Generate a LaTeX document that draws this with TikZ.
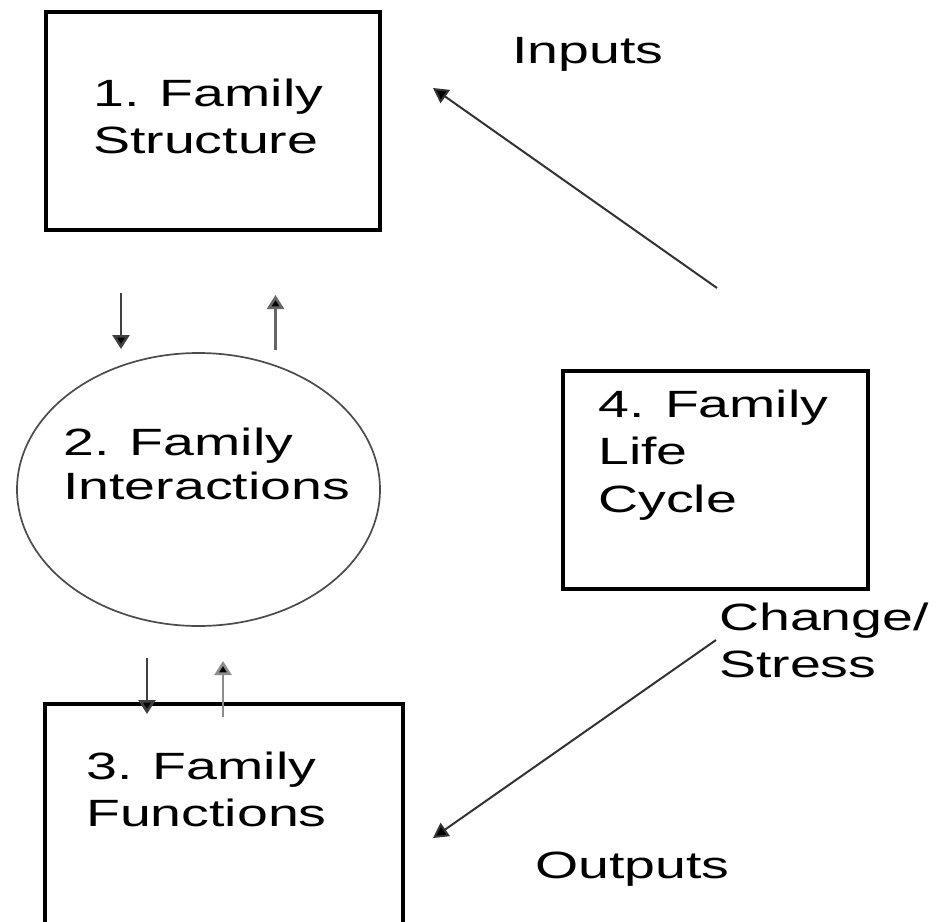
\documentclass[tikz,border=0pt]{standalone}
\usepackage{fontspec}
\setmainfont[FakeStretch=1.46]{Liberation Sans}
\usetikzlibrary{arrows.meta,shapes.geometric}
\begin{document}
\begin{tikzpicture}[x=1pt,y=-1pt,
  boxline/.style={draw=black, line width=4pt, inner sep=0pt, rectangle},
  ovalline/.style={draw=black!70, line width=1.7pt, ellipse, inner sep=0pt},
  lbl/.style={anchor=base west, inner sep=0pt, font=\fontsize{38}{47.5}\selectfont},
  conn/.style={draw=black!80, line width=2pt, -{Triangle[width=16pt,length=15pt,fill=black]}},
  vconn/.style={line width=2.6pt, -{Triangle[width=17pt,length=14pt,fill=black]}}]
\useasboundingbox (0,0) rectangle (937,921);
\clip (0,0) rectangle (937,921);
\fill[white] (0,0) rectangle (937,921);
% boxes
\node[boxline, minimum width=334.5pt, minimum height=218pt] (box1) at (212.75,120.5) {};
\node[ovalline, minimum width=363pt, minimum height=273pt] (oval2) at (198.5,489.5) {};
\node[boxline, minimum width=358pt, minimum height=296pt] (box3) at (224,852) {};
\node[boxline, minimum width=305pt, minimum height=218pt] (box4) at (715,480) {};
% texts
\node[lbl] (t1) at (93,106) {\begin{tabular}[t]{@{}l@{}}1. Family\\Structure\end{tabular}};
\node[lbl, font=\fontsize{38}{44}\selectfont] (t2) at (63,455) {\begin{tabular}[t]{@{}l@{}}2. Family\\Interactions\end{tabular}};
\node[lbl] (t3) at (86,779) {\begin{tabular}[t]{@{}l@{}}3. Family\\Functions\end{tabular}};
\node[lbl] (t4) at (598,417) {\begin{tabular}[t]{@{}l@{}}4. Family\\Life\\Cycle\end{tabular}};
\node[lbl] (inputs) at (512,63) {Inputs};
\node[lbl] (change) at (719,630) {\begin{tabular}[t]{@{}l@{}}Change/\\Stress\end{tabular}};
\node[lbl] (outputs) at (535,878) {Outputs};
% connector ends
\coordinate (a1s) at (121,293); \coordinate (a1e) at (121,349);
\coordinate (a2s) at (275.5,350); \coordinate (a2e) at (275.5,295);
\coordinate (a3s) at (147,658); \coordinate (a3e) at (147,714);
\coordinate (a4s) at (223,717); \coordinate (a4e) at (223,661);
\coordinate (ins) at (717,288); \coordinate (ine) at (433,88);
\coordinate (chs) at (716,640); \coordinate (che) at (433,838);
% connectors
\draw[vconn, draw=black!75] (a1s) -- (a1e);
\draw[vconn, draw=black!60] (a2s) -- (a2e);
\draw[vconn, draw=black!75] (a3s) -- (a3e);
\draw[vconn, draw=black!45] (a4s) -- (a4e);
\draw[conn] (ins) -- (ine);
\draw[conn] (chs) -- (che);
\end{tikzpicture}
\end{document}
